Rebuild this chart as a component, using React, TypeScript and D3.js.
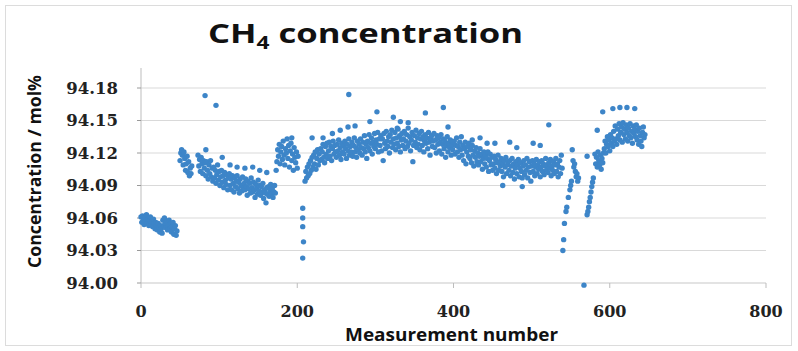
import React from "react";
import * as d3 from "d3";

// ---- data ----
const xTickValues = [0, 200, 400, 600, 800];
const yTickLabels = ["94.00", "94.03", "94.06", "94.09", "94.12", "94.15", "94.18"];

// consecutive measurement segments (start measurement number + values)
const segAStart = 0;
const segA = [
  94.061, 94.056, 94.062, 94.058, 94.054, 94.060, 94.057, 94.063, 94.055, 94.059,
  94.053, 94.058, 94.061, 94.054, 94.057, 94.052, 94.059, 94.055, 94.050, 94.056,
  94.053, 94.049, 94.055, 94.051, 94.047, 94.053, 94.050, 94.046,
  94.058, 94.053, 94.060, 94.055, 94.051, 94.057, 94.049, 94.054, 94.058, 94.050,
  94.055, 94.047, 94.052, 94.056, 94.045, 94.050, 94.053, 94.044, 94.048,
];
const segBStart = 50;
const segB = [
  94.113, 94.120, 94.123, 94.118, 94.109, 94.121, 94.115, 94.104, 94.110, 94.117,
  94.102, 94.112, 94.099, 94.106, 94.101, 94.108,
];
const segCStart = 73;
const segC = [
  94.118, 94.108, 94.114, 94.103, 94.116, 94.110, 94.101, 94.113, 94.106, 94.111,
  94.099, 94.112, 94.104, 94.096, 94.109, 94.101, 94.113, 94.098, 94.106, 94.094,
  94.107, 94.097, 94.104, 94.092, 94.100, 94.109, 94.095, 94.103, 94.090, 94.098,
  94.104, 94.093, 94.099, 94.088, 94.102, 94.095, 94.091, 94.100, 94.086, 94.097,
  94.101, 94.090, 94.096, 94.086, 94.099, 94.092, 94.084, 94.097, 94.089, 94.094,
  94.099, 94.087, 94.093, 94.083, 94.096, 94.090, 94.085, 94.098, 94.088, 94.092,
  94.086, 94.096, 94.089, 94.081, 94.094, 94.087, 94.092, 94.083, 94.097, 94.088,
  94.084, 94.093, 94.086, 94.079, 94.091, 94.087, 94.082, 94.095, 94.085, 94.090,
  94.081, 94.089, 94.084, 94.092, 94.078, 94.086, 94.083, 94.074, 94.088, 94.082,
  94.089, 94.080, 94.085, 94.091, 94.082, 94.087, 94.079, 94.084, 94.090, 94.083,
];
const segDStart = 174;
const segD = [
  94.112, 94.123, 94.117, 94.128, 94.110, 94.121, 94.126, 94.114, 94.131, 94.118,
  94.109, 94.124, 94.120, 94.133, 94.115, 94.127, 94.107, 94.122, 94.129, 94.113,
  94.119, 94.104, 94.125, 94.116, 94.111, 94.121, 94.106, 94.117,
];
const segEStart = 210;
const segE = [
  94.094, 94.103, 94.097, 94.107, 94.099, 94.110, 94.101, 94.113, 94.104, 94.116,
  94.107, 94.118, 94.110, 94.121, 94.105, 94.115, 94.123, 94.109, 94.119, 94.113,
  94.124, 94.114, 94.121, 94.128, 94.116, 94.111, 94.126, 94.119, 94.129, 94.115,
  94.122, 94.130, 94.117, 94.126, 94.113, 94.124, 94.131, 94.119, 94.127, 94.121,
  94.116, 94.128, 94.122, 94.132, 94.118, 94.125, 94.114, 94.129, 94.121, 94.127,
  94.119, 94.131, 94.124, 94.115, 94.128, 94.122, 94.133, 94.118, 94.126, 94.121,
  94.130, 94.117, 94.127, 94.134, 94.121, 94.125, 94.116, 94.131, 94.123, 94.128,
  94.120, 94.133, 94.125, 94.118, 94.130, 94.124, 94.136, 94.121, 94.128, 94.115,
  94.131, 94.125, 94.137, 94.122, 94.129, 94.134, 94.119, 94.130, 94.126, 94.138,
  94.124, 94.132, 94.128, 94.139, 94.121, 94.133,
];
const segFStart = 306;
const segF = [
  94.127, 94.136, 94.122, 94.133, 94.113, 94.138, 94.129, 94.124, 94.140, 94.131,
  94.126, 94.135, 94.120, 94.137, 94.130, 94.141, 94.125, 94.133, 94.128, 94.139,
  94.123, 94.134, 94.129, 94.142, 94.126, 94.136, 94.121, 94.132, 94.138, 94.127,
  94.133, 94.140, 94.124, 94.131, 94.137, 94.126, 94.143, 94.129, 94.135, 94.122,
  94.132, 94.139, 94.112, 94.127, 94.136, 94.130, 94.141, 94.125, 94.134, 94.128,
  94.138, 94.123, 94.133, 94.140, 94.127, 94.135, 94.121, 94.131, 94.137, 94.129,
  94.134, 94.124, 94.139, 94.130, 94.118, 94.133, 94.136, 94.126, 94.131, 94.138,
  94.125, 94.132, 94.120, 94.136, 94.128, 94.134, 94.122, 94.130, 94.137, 94.119,
  94.128, 94.133, 94.124, 94.131, 94.116, 94.127, 94.135, 94.121, 94.129, 94.125,
  94.132, 94.118, 94.127, 94.123, 94.130,
];
const segGStart = 401;
const segG = [
  94.131, 94.119, 94.127, 94.134, 94.121, 94.126, 94.116, 94.130, 94.123, 94.135,
  94.118, 94.127, 94.113, 94.124, 94.130, 94.110, 94.121, 94.126, 94.117, 94.129,
  94.115, 94.123, 94.111, 94.127, 94.118, 94.108, 94.122, 94.116, 94.125, 94.112,
  94.120, 94.109, 94.117, 94.124, 94.112, 94.119, 94.105, 94.115, 94.121, 94.110,
  94.118, 94.107, 94.115, 94.121, 94.103, 94.113, 94.119, 94.109, 94.116, 94.104,
  94.110, 94.117, 94.106, 94.114, 94.101, 94.111, 94.118, 94.104, 94.112, 94.108,
  94.115, 94.103, 94.110, 94.098, 94.113, 94.107, 94.116, 94.101, 94.109, 94.112,
  94.104, 94.113, 94.099, 94.108, 94.115, 94.102, 94.110, 94.096, 94.106, 94.112,
  94.101, 94.109, 94.114, 94.098, 94.106, 94.111, 94.103, 94.097, 94.108, 94.113,
  94.100, 94.109, 94.104, 94.115, 94.097, 94.107, 94.112, 94.102, 94.094, 94.108,
  94.113, 94.103, 94.110, 94.099, 94.107, 94.114, 94.101, 94.109, 94.105, 94.112,
  94.098, 94.107, 94.113, 94.103, 94.110, 94.100, 94.108, 94.115, 94.104, 94.109,
  94.102, 94.111, 94.106, 94.114, 94.099, 94.108, 94.104, 94.112, 94.101, 94.109,
  94.115, 94.103, 94.110, 94.098, 94.107, 94.113, 94.101, 94.118, 94.106,
];
const segJStart = 581;
const segJ = [
  94.119, 94.110, 94.116, 94.107, 94.121, 94.113, 94.109, 94.118, 94.105, 94.115,
  94.111, 94.120,
  94.124, 94.131, 94.120, 94.128, 94.135, 94.126, 94.132, 94.122, 94.137, 94.129,
  94.134, 94.126, 94.140, 94.131, 94.145, 94.133, 94.128, 94.142, 94.136, 94.147,
  94.132, 94.139, 94.144, 94.130, 94.148, 94.137, 94.142, 94.133, 94.146, 94.139,
  94.131, 94.143, 94.136, 94.147, 94.134, 94.140, 94.129, 94.145, 94.138, 94.142,
  94.135, 94.146, 94.132, 94.140, 94.128, 94.143, 94.136, 94.131, 94.126, 94.139,
  94.144, 94.134, 94.137,
];

// drop near measurement 207
const dropN = [207, 207, 207, 208, 207];
const dropV = [94.069, 94.060, 94.052, 94.038, 94.023];

// dip region around measurements 540-580
const dipN = [540, 541, 542, 544, 545, 547, 549, 550, 551, 552, 553, 554, 555, 556, 557, 558, 559, 560,
  567, 571, 572, 573, 574, 575, 576, 577, 578, 579, 571];
const dipV = [94.030, 94.040, 94.055, 94.066, 94.070, 94.079, 94.086, 94.090, 94.094, 94.123, 94.113,
  94.107, 94.110, 94.103, 94.098, 94.101, 94.094, 94.097,
  93.998, 94.063, 94.066, 94.070, 94.075, 94.079, 94.084, 94.089, 94.093, 94.097, 94.117];

// sparse upper track and outliers
const sparseN = [82, 96, 83, 104, 114, 123, 133, 143, 152, 161, 173, 193, 219, 233, 245, 255, 265, 266,
  274, 293, 302, 323, 328, 332, 342, 364, 387, 393, 424, 434, 443, 453, 463, 472, 481, 488, 502, 511,
  522, 584, 591, 604, 613, 622, 632];
const sparseV = [94.173, 94.164, 94.123, 94.116, 94.109, 94.107, 94.106, 94.107, 94.104, 94.102, 94.104,
  94.134, 94.134, 94.134, 94.138, 94.141, 94.144, 94.174, 94.145, 94.149, 94.158, 94.153, 94.143,
  94.149, 94.148, 94.157, 94.162, 94.144, 94.132, 94.134, 94.129, 94.129, 94.090, 94.130, 94.125,
  94.089, 94.129, 94.127, 94.146, 94.141, 94.158, 94.161, 94.162, 94.162, 94.161];

type Pt = { n: number; v: number };
const fromSeg = (start: number, vals: number[]): Pt[] => vals.map((v, i) => ({ n: start + i, v }));
const fromPairs = (ns: number[], vs: number[]): Pt[] => ns.map((n, i) => ({ n, v: vs[i] }));

const points: Pt[] = [
  ...fromSeg(segAStart, segA),
  ...fromSeg(segBStart, segB),
  ...fromSeg(segCStart, segC),
  ...fromSeg(segDStart, segD),
  ...fromSeg(segEStart, segE),
  ...fromSeg(segFStart, segF),
  ...fromSeg(segGStart, segG),
  ...fromSeg(segJStart, segJ),
  ...fromPairs(dropN, dropV),
  ...fromPairs(dipN, dipV),
  ...fromPairs(sparseN, sparseV),
];

const W = 798;
const H = 351;

export default function App() {
  const x = d3.scaleLinear().domain([0, 800]).range([141, 766]);
  const yTicks = yTickLabels.map((t) => +t);
  const y = d3.scaleLinear().domain([94.0, 94.18]).range([283, 88]);
  const [x0, x1] = x.range();
  const yBottom = y(94.0);
  const yTop = y(94.18) - 20;
  const tickFont = "'DejaVu Serif', serif";
  const sans = "'Open Sans', 'Noto Sans', sans-serif";

  return (
    <div style={{ position: "absolute", left: 0, top: 0, width: W, height: H, background: "#fff" }}>
      <svg width={W} height={H} style={{ display: "block" }}>
        <rect x={0} y={0} width={W} height={H} fill="#fff" />
        <rect x={5.5} y={5.5} width={786} height={340} fill="none" stroke="#dcdcdc" strokeWidth={1} />

        {/* title */}
        <text
          x={208}
          y={43}
          fontFamily={sans}
          fontWeight={700}
          fontSize={26}
          fill="#111"
          textLength={315}
          lengthAdjust="spacingAndGlyphs"
        >
          CH<tspan fontSize={17} dy={6}>4</tspan>
          <tspan dy={-6}> concentration</tspan>
        </text>

        {/* gridlines */}
        {yTicks.map((t) => (
          <line
            key={"g" + t}
            x1={x0}
            x2={x1}
            y1={y(t)}
            y2={y(t)}
            stroke={t === 94.0 ? "#c8c8c8" : "#d9d9d9"}
            strokeWidth={1.2}
          />
        ))}

        {/* y axis */}
        <line x1={x0} x2={x0} y1={yTop} y2={yBottom} stroke="#bdbdbd" strokeWidth={1} />
        {yTicks.map((t) => (
          <line key={"yt" + t} x1={x0 - 4} x2={x0} y1={y(t)} y2={y(t)} stroke="#9a9a9a" strokeWidth={1} />
        ))}
        {yTickLabels.map((lab) => (
          <text
            key={"yl" + lab}
            x={118}
            y={y(+lab)}
            dy="0.36em"
            textAnchor="end"
            fontFamily={tickFont}
            fontWeight={700}
            fontSize={16.5}
            fill="#222"
          >
            {lab}
          </text>
        ))}

        {/* x axis ticks and labels */}
        {xTickValues.map((t) => (
          <g key={"xt" + t}>
            <line x1={x(t)} x2={x(t)} y1={yBottom} y2={yBottom + 5} stroke="#bdbdbd" strokeWidth={1} />
            <text
              x={x(t)}
              y={317}
              textAnchor="middle"
              fontFamily={tickFont}
              fontWeight={700}
              fontSize={16}
              fill="#222"
            >
              {t}
            </text>
          </g>
        ))}

        {/* axis titles */}
        <text
          x={345}
          y={341}
          fontFamily={sans}
          fontWeight={700}
          fontSize={17}
          fill="#111"
          textLength={213}
          lengthAdjust="spacingAndGlyphs"
        >
          Measurement number
        </text>
        <text
          transform="translate(41,268) rotate(-90)"
          x={0}
          y={0}
          fontFamily={sans}
          fontWeight={700}
          fontSize={17}
          fill="#111"
          textLength={193}
          lengthAdjust="spacingAndGlyphs"
        >
          Concentration / mol%
        </text>

        {/* points */}
        <g>
          {points.map((p, i) => (
            <circle key={i} cx={x(p.n)} cy={y(p.v)} r={2.7} fill="#3d85c8" />
          ))}
        </g>
      </svg>
    </div>
  );
}
